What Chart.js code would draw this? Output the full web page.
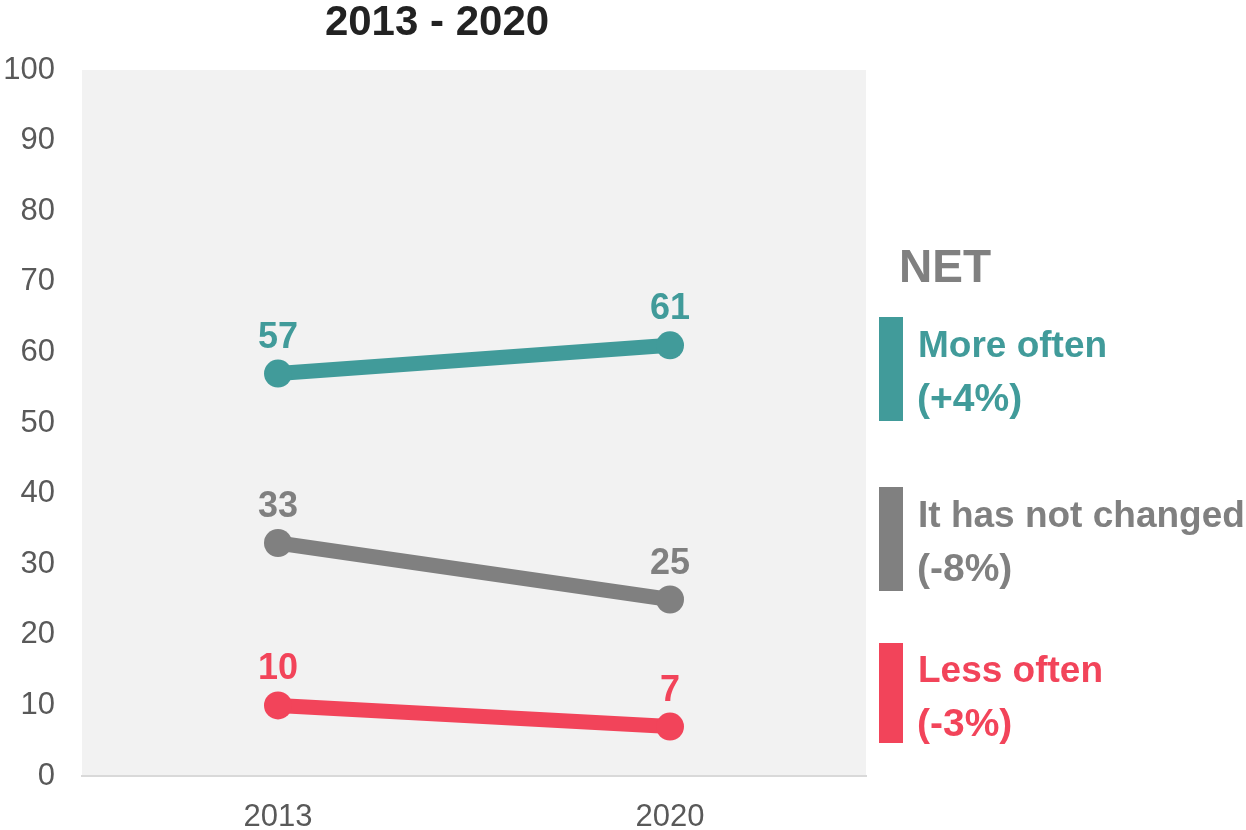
<!DOCTYPE html>
<html>
<head>
<meta charset="utf-8">
<title>2013 - 2020</title>
<script src="https://cdn.jsdelivr.net/npm/chart.js@4.4.1/dist/chart.umd.min.js"></script>
<style>
  html, body { margin: 0; padding: 0; background: #fff; }
  #wrap { width: 1246px; height: 830px; position: relative; }
</style>
</head>
<body>
<div id="wrap"><canvas id="trendChart"></canvas></div>
<script>
// DATA
const years = ['2013', '2020'];
const moreOften = [57, 61];
const notChanged = [33, 25];
const lessOften = [10, 7];
const seriesNames = ['More often', 'It has not changed', 'Less often'];
const netLabels = ['(+4%)', '(-8%)', '(-3%)'];
const yTicks = [0, 10, 20, 30, 40, 50, 60, 70, 80, 90, 100];

const colors = ['#419b9a', '#808080', '#f2445a'];
const FONT = '"Liberation Sans", Arial, sans-serif';

// plot background + title + value labels + NET legend
const decorPlugin = {
  id: 'decor',
  beforeDraw(chart) {
    const { ctx, chartArea: a } = chart;
    ctx.save();
    ctx.fillStyle = '#f2f2f2';
    ctx.fillRect(a.left, a.top, a.right - a.left, a.bottom - a.top);
    ctx.restore();
  },
  afterDatasetsDraw(chart) {
    const ctx = chart.ctx;
    ctx.save();
    ctx.textAlign = 'center';
    ctx.textBaseline = 'alphabetic';
    ctx.font = 'bold 36px ' + FONT;
    chart.data.datasets.forEach((ds, i) => {
      chart.getDatasetMeta(i).data.forEach((pt, j) => {
        ctx.fillStyle = ds.borderColor;
        ctx.fillText(ds.data[j], pt.x, pt.y - 26);
      });
    });
    ctx.restore();
  },
  afterDraw(chart) {
    const ctx = chart.ctx;
    ctx.save();
    // title
    ctx.fillStyle = '#222';
    ctx.font = 'bold 42px ' + FONT;
    ctx.textAlign = 'center';
    ctx.textBaseline = 'alphabetic';
    ctx.fillText('2013 - 2020', 437, 35);

    // NET legend
    ctx.textAlign = 'left';
    ctx.fillStyle = '#808080';
    ctx.font = 'bold 46px ' + FONT;
    ctx.fillText('NET', 899, 282);

    const barTops = [317, 487, 643];
    const barHeights = [104, 104, 100];
    const baselines = [357, 527, 682];
    seriesNames.forEach((name, i) => {
      ctx.fillStyle = colors[i];
      ctx.fillRect(879, barTops[i], 24, barHeights[i]);
      ctx.font = 'bold 37px ' + FONT;
      ctx.fillText(name, 918, baselines[i]);
      ctx.font = 'bold 39px ' + FONT;
      ctx.fillText(netLabels[i], 917, baselines[i] + 54);
    });
    ctx.restore();
  }
};

function lineSet(label, data, color) {
  return {
    label,
    data,
    borderColor: color,
    backgroundColor: color,
    borderWidth: 15,
    pointRadius: 14,
    pointHoverRadius: 14,
    pointBorderWidth: 0,
    pointBackgroundColor: color,
    tension: 0
  };
}

new Chart(document.getElementById('trendChart'), {
  type: 'line',
  data: {
    labels: years,
    datasets: [
      lineSet(seriesNames[0], moreOften, colors[0]),
      lineSet(seriesNames[1], notChanged, colors[1]),
      lineSet(seriesNames[2], lessOften, colors[2])
    ]
  },
  options: {
    responsive: true,
    maintainAspectRatio: false,
    animation: false,
    events: [],
    layout: { padding: { top: 70, right: 380, bottom: 0, left: 0 } },
    plugins: {
      legend: { display: false },
      title: { display: false },
      tooltip: { enabled: false }
    },
    scales: {
      x: {
        offset: true,
        grid: { display: false },
        border: { display: true, color: '#d9d9d9', width: 2 },
        ticks: { color: '#595959', font: { family: FONT, size: 31 }, padding: 15 },
        afterFit(scale) { scale.height = 54; }
      },
      y: {
        min: 0,
        max: 100,
        afterBuildTicks(scale) { scale.ticks = yTicks.map(v => ({ value: v })); },
        grid: { display: false },
        border: { display: false },
        ticks: { color: '#595959', font: { family: FONT, size: 31 }, padding: 19 },
        afterFit(scale) { scale.width = 82; }
      }
    }
  },
  plugins: [decorPlugin]
});
</script>
</body>
</html>
